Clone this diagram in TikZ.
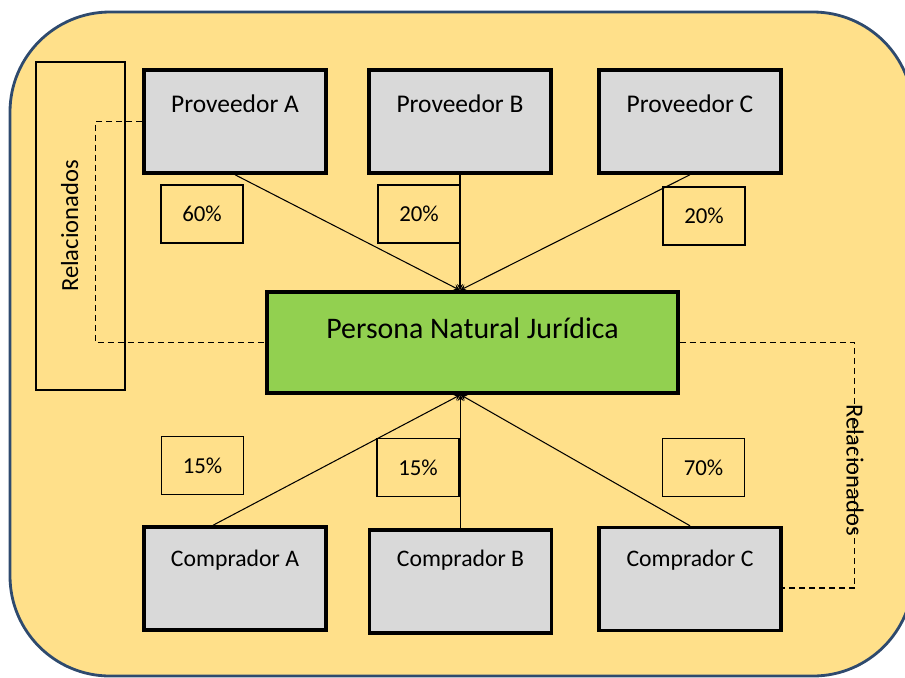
\documentclass[tikz,border=0pt]{standalone}
\usepackage{fontspec}
\setmainfont{Carlito}
\definecolor{fondo}{HTML}{FFE08A}
\definecolor{borde}{HTML}{2E4A6E}
\definecolor{gris}{HTML}{D9D9D9}
\definecolor{verde}{HTML}{92D050}
\begin{document}
\begin{tikzpicture}[>=stealth, x=0.02cm, y=-0.02cm, semithick,
        caja/.style={draw, line width=2pt, fill=gris, minimum width=3.64cm, minimum height=2.06cm, font=\fontsize{14.5}{16}\selectfont, text height=0.4cm},
        pct/.style={draw, line width=0.8pt, minimum width=1.64cm, minimum height=1.16cm, font=\fontsize{13}{15}\selectfont},
        rel/.style={font=\fontsize{14}{16}\selectfont},
        guion/.style={dash pattern=on 3.4pt off 2.3pt, line width=0.75pt}]
    \useasboundingbox (0,0) rectangle (905,677);
    \clip (0,0) rectangle (905,677);
    \draw[borde, fill=fondo, line width=1.6pt, rounded corners=2cm] (10,12) rectangle (913,676);

    % relacionados (izquierda)
    \node[draw, line width=0.8pt, rotate=90, minimum width=6.56cm, minimum height=1.78cm, rel, text height=0.35cm, text depth=0.45cm] (rela) at (80.5,226) {Relacionados};

    % proveedores
    \node[caja, text depth=0.78cm] (pa) at (235,121.5) {Proveedor A};
    \node[caja, text depth=0.78cm] (pb) at (460,121.5) {Proveedor B};
    \node[caja, text depth=0.78cm] (pc) at (690,121.5) {Proveedor C};

    \node[pct] (p60) at (202,214) {60\%};
    \node[pct] (p20a) at (419,214) {20\%};
    \node[pct] (p20b) at (704,216) {20\%};

    % persona
    \node[draw, line width=2pt, fill=verde, minimum width=8.22cm, minimum height=2.02cm, font=\fontsize{17}{20}\selectfont, text height=0.5cm, text depth=0.68cm] (pnj) at (472.5,342.5) {Persona Natural Jurídica};

    % compradores
    \node[pct] (c15a) at (202.5,465.5) {15\%};
    \node[pct] (c15b) at (418,467.5) {15\%};
    \node[pct] (c70) at (703.5,467.5) {70\%};

    \node[caja, font=\fontsize{13.5}{16}\selectfont, text depth=0.9cm] (ca) at (235,578.5) {Comprador A};
    \node[caja, font=\fontsize{13.5}{16}\selectfont, text depth=1.02cm] (cb) at (460.5,581.5) {Comprador B};
    \node[caja, font=\fontsize{13.5}{16}\selectfont, text depth=0.9cm] (cc) at (690,579) {Comprador C};

    \draw[->] (pa.south) -- (pnj.north -| pb.south);
    \draw[->] (pb.south) -- (pnj.north -| pb.south);
    \draw[->] (pc.south) -- (pnj.north -| pb.south);
    \draw[->] ([xshift=-0.44cm]ca.north) -- (pnj.south -| cb.north);
    \draw[->] (cb.north) -- (pnj.south -| cb.north);
    \draw[->] (cc.north) -- (pnj.south -| cb.north);

    \draw[guion] (pa.west) -- ++(-47,0) |- (pnj.west);
    \draw[guion] (pnj.east) -- ++(175,0) |- ([yshift=-0.18cm]cc.east);
    \node[rel, rotate=-90] (reld) at (855,470) {Relacionados};
\end{tikzpicture}
\end{document}
